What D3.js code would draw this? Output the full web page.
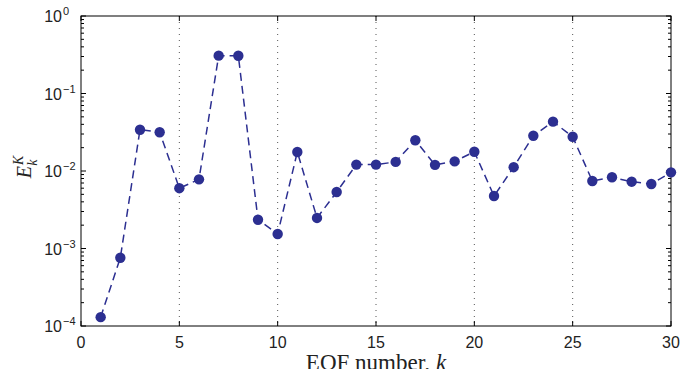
<!DOCTYPE html>
<html>
<head>
<meta charset="utf-8">
<script src="https://cdn.jsdelivr.net/npm/d3@7"></script>
<style>
  html, body { margin: 0; padding: 0; background: #fff; }
  svg { display: block; }
</style>
</head>
<body>
<svg id="chart" width="682" height="379"></svg>
<script>
// EOF index and the energy fraction carried by each mode
const eofNumbers = [1,2,3,4,5,6,7,8,9,10,11,12,13,14,15,16,17,18,19,20,21,22,23,24,25,26,27,28,29,30];
const energyValues = [0.00013, 0.00076, 0.0341, 0.0316, 0.0060, 0.0078, 0.308, 0.307, 0.00235, 0.00154,
                      0.0176, 0.00248, 0.00536, 0.0121, 0.0121, 0.0131, 0.0249, 0.0120, 0.0133, 0.0177,
                      0.00476, 0.0112, 0.0285, 0.0433, 0.0277, 0.00743, 0.0083, 0.00728, 0.00679, 0.0096];
const xTicks = [0, 5, 10, 15, 20, 25, 30];
const gridTicks = [5, 10, 15, 20, 25];
const yExponents = [-4, -3, -2, -1, 0];

const svg = d3.select("#chart");
const margin = { left: 81, right: 11, top: 16, bottom: 53 };
const W = 682, H = 379;
const x0 = margin.left, x1 = W - margin.right, y0 = margin.top, y1 = H - margin.bottom;

const x = d3.scaleLinear().domain([0, 30]).range([x0, x1]);
const y = d3.scaleLog().domain([1e-4, 1]).range([y1, y0]);

const data = eofNumbers.map((k, i) => ({ k, v: energyValues[i] }));
const color = "#2c2f91";

// dotted vertical grid
svg.append("g").selectAll("line").data(gridTicks).join("line")
  .attr("x1", d => x(d)).attr("x2", d => x(d))
  .attr("y1", y0).attr("y2", y1)
  .attr("stroke", "#555").attr("stroke-width", 1)
  .attr("stroke-dasharray", "1,5");

// axes with inward ticks
const tickLen = 5, minorLen = 3;
const axes = svg.append("g").attr("stroke", "#000").attr("stroke-width", 1);
xTicks.forEach(t => {
  axes.append("line").attr("x1", x(t)).attr("x2", x(t)).attr("y1", y1).attr("y2", y1 - tickLen);
  axes.append("line").attr("x1", x(t)).attr("x2", x(t)).attr("y1", y0).attr("y2", y0 + tickLen);
});
const minorVals = [];
for (let e = -4; e < 0; e++) for (let m = 2; m <= 9; m++) minorVals.push(m * Math.pow(10, e));
yExponents.forEach(e => {
  const v = Math.pow(10, e);
  axes.append("line").attr("x1", x0).attr("x2", x0 + tickLen).attr("y1", y(v)).attr("y2", y(v));
  axes.append("line").attr("x1", x1).attr("x2", x1 - tickLen).attr("y1", y(v)).attr("y2", y(v));
});
minorVals.forEach(v => {
  axes.append("line").attr("x1", x0).attr("x2", x0 + minorLen).attr("y1", y(v)).attr("y2", y(v));
  axes.append("line").attr("x1", x1).attr("x2", x1 - minorLen).attr("y1", y(v)).attr("y2", y(v));
});
axes.append("rect").attr("x", x0).attr("y", y0).attr("width", x1 - x0).attr("height", y1 - y0)
  .attr("fill", "none");

// tick labels
const lab = svg.append("g").attr("font-family", "Liberation Sans, Arial, sans-serif").attr("fill", "#222");
lab.selectAll("text.xt").data(xTicks).join("text")
  .attr("x", d => x(d)).attr("y", y1 + 22)
  .attr("text-anchor", "middle").attr("font-size", 16).text(d => d);
yExponents.forEach(e => {
  lab.append("text").attr("x", 62).attr("y", y(Math.pow(10, e)) + 6)
    .attr("text-anchor", "end").attr("font-size", 16).text("10");
  lab.append("text").attr("x", 63).attr("y", y(Math.pow(10, e)) - 1)
    .attr("font-size", 11).text(e === 0 ? "0" : "\u2212" + (-e));
});

// axis titles
svg.append("text")
  .attr("x", (x0 + x1) / 2).attr("y", 370)
  .attr("text-anchor", "middle")
  .attr("font-family", "Liberation Serif, DejaVu Serif, serif").attr("font-size", 23).attr("fill", "#222")
  .html('EOF number, <tspan font-style="italic">k</tspan>');
const yl = svg.append("text")
  .attr("transform", `translate(31, 167) rotate(-90)`)
  .attr("text-anchor", "middle")
  .attr("font-family", "Liberation Serif, DejaVu Serif, serif").attr("fill", "#222")
  .attr("font-style", "italic");
yl.append("tspan").attr("font-size", 20).text("E");
yl.append("tspan").attr("font-size", 14).attr("dy", -8).attr("dx", 1).text("K");
yl.append("tspan").attr("font-size", 14).attr("dy", 14).attr("dx", -10).text("k");

// data line and markers
const line = d3.line().x(d => x(d.k)).y(d => y(d.v));
svg.append("path").datum(data).attr("d", line)
  .attr("fill", "none").attr("stroke", color).attr("stroke-width", 1.5)
  .attr("stroke-dasharray", "8,5");
svg.append("g").selectAll("circle").data(data).join("circle")
  .attr("cx", d => x(d.k)).attr("cy", d => y(d.v)).attr("r", 5.2)
  .attr("fill", color);

// bottom edge of the figure crops the title
svg.append("rect").attr("x", 0).attr("y", 369).attr("width", W).attr("height", H - 369).attr("fill", "#fff");
</script>
</body>
</html>
